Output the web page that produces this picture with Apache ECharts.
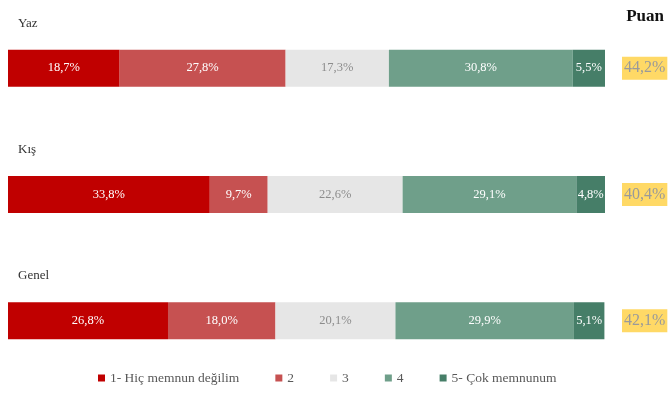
<!DOCTYPE html>
<html>
<head>
<meta charset="utf-8">
<script src="https://cdn.jsdelivr.net/npm/echarts@6/dist/echarts.min.js"></script>
<style>
  html, body { margin: 0; padding: 0; background: #fff; }
  #chart { width: 671px; height: 396px; }
</style>
</head>
<body>
<div id="chart"></div>
<script>
// Satisfaction shares per season (percent of respondents)
const seasons = ['Yaz', 'Kış', 'Genel'];
const levelNames = ['1- Hiç memnun değilim', '2', '3', '4', '5- Çok memnunum'];
const level1 = [18.7, 33.8, 26.8];
const level2 = [27.8, 9.7, 18.0];
const level3 = [17.3, 22.6, 20.1];
const level4 = [30.8, 29.1, 29.9];
const level5 = [5.5, 4.8, 5.1];
const scores = [44.2, 40.4, 42.1];

const levelColors = ['#C00000', '#C65151', '#E6E6E6', '#6F9F8A', '#467E68'];
const labelColors = ['#ffffff', '#ffffff', '#8c8c8c', '#ffffff', '#ffffff'];
const serif = '"Liberation Serif", "DejaVu Serif", serif';
const fmt = v => v.toFixed(1).replace('.', ',') + '%';

const levels = [level1, level2, level3, level4, level5];

const chart = echarts.init(document.getElementById('chart'));
chart.setOption({
  animation: false,
  title: {
    text: 'Puan',
    right: 2,
    top: 3,
    textStyle: { fontFamily: serif, fontSize: 17, fontWeight: 'bold', color: '#111' }
  },
  grid: { left: 8, right: 66, top: 5, bottom: 12 },
  legend: {
    left: 93,
    bottom: 6,
    icon: 'rect',
    itemWidth: 7,
    itemHeight: 7,
    itemGap: 36,
    itemTextGap: 0,
    textStyle: { fontFamily: serif, fontSize: 13.5, color: '#595959' },
    data: levelNames
  },
  xAxis: { type: 'value', min: 0, max: 100, show: false },
  yAxis: [
    {
      type: 'category',
      data: seasons,
      inverse: true,
      axisLine: { show: false },
      axisTick: { show: false },
      axisLabel: { show: false }
    },
    {
      type: 'category',
      data: seasons,
      inverse: true,
      position: 'right',
      axisLine: { show: false },
      axisTick: { show: false },
      axisLabel: {
        margin: 17,
        formatter: (v, i) => fmt(scores[i]),
        backgroundColor: '#FFD966',
        padding: [4, 2, 3, 2],
        fontFamily: serif,
        fontSize: 16,
        color: '#9a9a9a'
      }
    }
  ],
  series: levels.map((vals, k) => ({
    name: levelNames[k],
    type: 'bar',
    stack: 'total',
    barWidth: 37,
    data: vals,
    itemStyle: { color: levelColors[k] },
    label: {
      show: true,
      position: 'inside',
      formatter: p => fmt(p.value),
      fontFamily: serif,
      fontSize: 12.5,
      color: labelColors[k]
    }
  }))
});

// Season names sit above the left end of each bar
chart.setOption({
  graphic: seasons.map(name => {
    const [x, y] = chart.convertToPixel({ yAxisIndex: 0, xAxisIndex: 0 }, [0, name]);
    return {
      type: 'text',
      x: x + 10,
      y: y - 45,
      style: {
        text: name,
        fontFamily: serif,
        fontSize: 13,
        fill: '#333',
        verticalAlign: 'middle'
      }
    };
  })
});
</script>
</body>
</html>
